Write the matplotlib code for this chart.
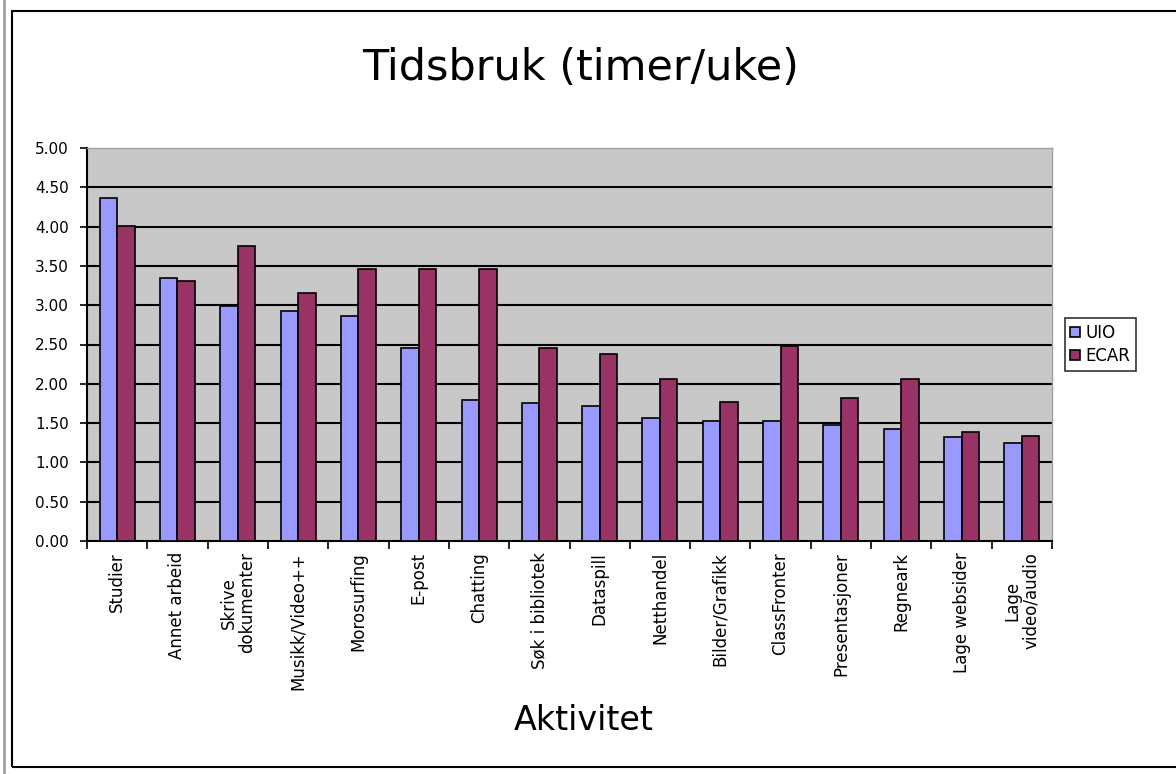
import matplotlib
matplotlib.use("Agg")
import matplotlib.pyplot as plt
from matplotlib.patches import Rectangle
from matplotlib.lines import Line2D
import numpy as np

categories = ["Studier", "Annet arbeid", "Skrive\ndokumenter", "Musikk/Video++",
              "Morosurfing", "E-post", "Chatting", "Søk i bibliotek", "Dataspill",
              "Netthandel", "Bilder/Grafikk", "ClassFronter", "Presentasjoner",
              "Regneark", "Lage websider", "Lage\nvideo/audio"]
uio = [4.37, 3.34, 2.99, 2.93, 2.86, 2.45, 1.80, 1.75, 1.72, 1.56, 1.53, 1.53, 1.48, 1.42, 1.32, 1.25]
ecar = [4.01, 3.31, 3.75, 3.15, 3.46, 3.46, 3.46, 2.45, 2.38, 2.06, 1.77, 2.48, 1.82, 2.06, 1.39, 1.34]
yticks = [0.0, 0.5, 1.0, 1.5, 2.0, 2.5, 3.0, 3.5, 4.0, 4.5, 5.0]

W, H = 1176, 774
plt.rcParams['font.family'] = ['DejaVu Sans']
fig = plt.figure(figsize=(W / 100, H / 100), dpi=100)

# outer frame
fig.add_artist(Line2D([4 / W, 4 / W], [0, 1], transform=fig.transFigure, color="#a0a0a0", lw=2))
fig.add_artist(Rectangle((12 / W, 1 - 767 / H), (W + 10 - 12) / W, (767 - 11) / H,
                         transform=fig.transFigure, fill=False, edgecolor="black", lw=1.5))

left, right, top, bottom = 87, 1052, 148, 541
ax = fig.add_axes([left / W, 1 - bottom / H, (right - left) / W, (bottom - top) / H])
ax.set_facecolor("#c8c8c8")

x = np.arange(len(categories))
bw = 0.29
ax.bar(x - bw / 2, uio, bw, color="#9999ff", edgecolor="black", linewidth=1.2, label="UIO", zorder=3)
ax.bar(x + bw / 2, ecar, bw, color="#993366", edgecolor="black", linewidth=1.2, label="ECAR", zorder=3)

ax.set_xlim(-0.5, len(categories) - 0.5)
ax.set_ylim(0, 5)
ax.set_yticks(yticks)
ax.set_yticklabels([f"{v:.2f}" for v in yticks], fontsize=11)
for v in yticks[1:-1]:
    ax.axhline(v, color="black", lw=1.5, zorder=1)

ax.set_xticks(x)
ax.set_xticklabels(categories, rotation=90, fontsize=12, ha="center", va="top",
                   multialignment="center", linespacing=1.05)
ax.tick_params(axis="x", length=0, pad=8)
ax.set_xticks(np.arange(-0.5, len(categories)), minor=True)
ax.tick_params(axis="x", which="minor", length=6, width=1.2, direction="out")
ax.tick_params(axis="y", length=5, width=1.2, direction="out", pad=8)

for s in ["top", "right"]:
    ax.spines[s].set_color("#a0a0a0")
    ax.spines[s].set_linewidth(1)
ax.spines["left"].set_linewidth(1.5)
ax.spines["bottom"].set_linewidth(1.5)

fig.text(581 / W, 1 - 68 / H, "Tidsbruk (timer/uke)", fontsize=31, ha="center", va="center")
fig.text(584 / W, 1 - 721 / H, "Aktivitet", fontsize=24, ha="center", va="center")

leg = ax.legend(loc="center left", bbox_to_anchor=(1.013, 0.5), fontsize=12, frameon=True,
                fancybox=False, edgecolor="black", handlelength=0.6, handleheight=0.6,
                handletextpad=0.3, borderpad=0.35, labelspacing=0.3, borderaxespad=0)
leg.get_frame().set_linewidth(1.2)

fig.savefig("out.png", dpi=100, facecolor="white")
